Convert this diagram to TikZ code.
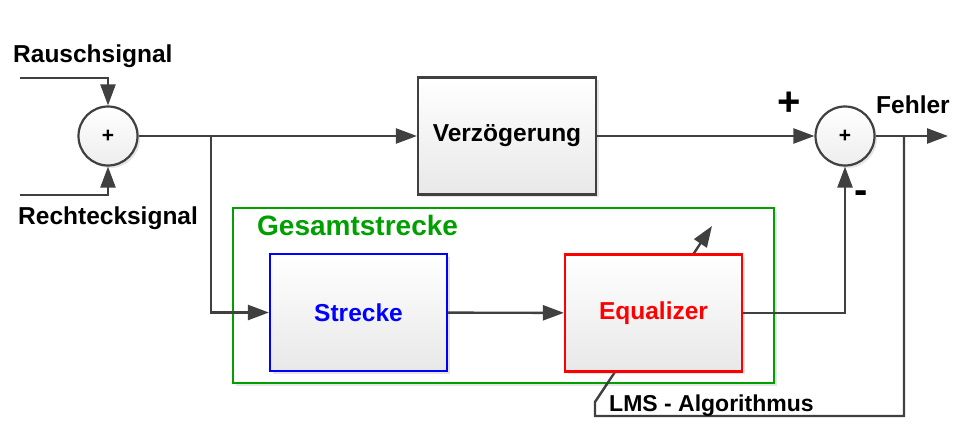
\documentclass[tikz,border=0pt]{standalone}
\usepackage{fontspec}
\setmainfont{Liberation Sans}
\usetikzlibrary{arrows.meta,shadows}
\definecolor{linegray}{HTML}{404040}
\definecolor{plantgreen}{HTML}{00A000}
\tikzset{
  shade/.style={drop shadow={shadow xshift=2.5pt, shadow yshift=-2.5pt, opacity=0.2}},
  block/.style={draw=linegray, line width=2.2pt, top color=white, bottom color=black!9,
    minimum width=177pt, minimum height=117pt, shade, font=\fontsize{24.5}{28}\selectfont\bfseries},
  sum/.style={circle, draw=linegray, line width=2.2pt, top color=white, bottom color=black!7,
    minimum size=59pt, inner sep=0pt, shade, font=\fontsize{21}{21}\selectfont\bfseries},
  sig/.style={draw=linegray, line width=2.4pt, -{Triangle[length=21pt,width=15pt]}},
  lbl/.style={inner sep=0pt, anchor=base west, font=\fontsize{24.5}{28}\selectfont\bfseries}
}
\begin{document}
\begin{tikzpicture}[x=1pt, y=-1pt]
  \useasboundingbox (0,0) rectangle (960,447);
  \node[sum] (sumin) at (108,136) {+};
  \node[block, minimum width=178pt] (delay) at (507,136) {Verzögerung};
  \node[sum] (sumout) at (845,136) {+};
  \node[draw=plantgreen, line width=2.2pt, minimum width=541pt, minimum height=175pt, shade, fill=white] (plant) at (503.5,295.5) {};
  \node[lbl, text=plantgreen, font=\fontsize{28}{32}\selectfont\bfseries] (plantlbl) at (257,235) {Gesamtstrecke};
  \node[block, text=blue, draw=blue] (strecke) at (358.5,312.5) {Strecke};
  \coordinate (rausch) at (20,78);
  \coordinate (rechteck) at (20,195);
  \coordinate (split1) at (211,136);
  \coordinate (split2) at (904,136);
  \coordinate (out) at (948,136);
  \coordinate (lmsturn) at (595,416);
  \coordinate (lmsbend) at (595,402);
  \coordinate (adjtip) at (712,226);
  \draw[sig] (split2) |- (lmsturn) -- (lmsbend) -- (adjtip);
  \node[block, text=red, draw=red] (equalizer) at (653.5,313) {Equalizer};
  \draw[sig] (rausch) -| (sumin.north);
  \draw[sig] (rechteck) -| (sumin.south);
  \draw[sig] (sumin) -- (delay);
  \draw[sig] (split1) |- (strecke);
  \draw[sig] (strecke) -- (equalizer);
  \draw[sig] (equalizer) -| (sumout.south);
  \draw[sig] (delay) -- (sumout);
  \draw[sig] (sumout) -- (out);
  \node[lbl] (rauschlbl) at (13,62) {Rauschsignal};
  \node[lbl] (rechtecklbl) at (18,224) {Rechtecksignal};
  \node[lbl] (fehlerlbl) at (876,113) {Fehler};
  \node[lbl, font=\fontsize{23}{27}\selectfont\bfseries] (lmslbl) at (609,411) {LMS - Algorithmus};
  \node[font=\fontsize{40}{40}\selectfont\bfseries, inner sep=0pt] (plus) at (789,104) {+};
  \node[font=\fontsize{40}{40}\selectfont\bfseries, inner sep=0pt] (minus) at (861,197) {-};
\end{tikzpicture}
\end{document}
